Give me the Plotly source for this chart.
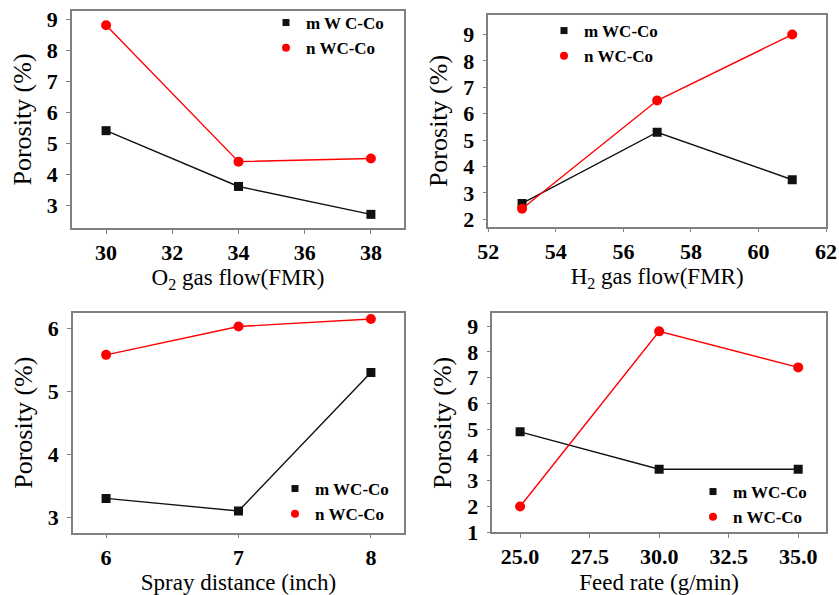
import plotly.graph_objects as go

# ---- data ----
o2_flow = [30, 34, 38]
o2_m = [5.4, 3.6, 2.7]
o2_n = [8.8, 4.4, 4.5]

h2_flow = [53, 57, 61]
h2_m = [2.6, 5.3, 3.5]
h2_n = [2.4, 6.5, 9.0]

spray_dist = [6, 7, 8]
spray_m = [3.3, 3.1, 5.3]
spray_n = [5.58, 6.03, 6.15]

feed_rate = [25, 30, 35]
feed_m = [4.9, 3.45, 3.45]
feed_n = [2.0, 8.8, 7.4]

# tick labels
xticks_o2 = [30, 32, 34, 36, 38]
xticks_h2 = [52, 54, 56, 58, 60, 62]
xticks_spray = [6, 7, 8]
xticks_feed = [25.0, 27.5, 30.0, 32.5, 35.0]
yticks_o2 = [3, 4, 5, 6, 7, 8, 9]
yticks_h2 = [2, 3, 4, 5, 6, 7, 8, 9]
yticks_spray = [3, 4, 5, 6]
yticks_feed = [1, 2, 3, 4, 5, 6, 7, 8, 9]

label_m = "m WC-Co"
label_m_first = "m W C-Co"
label_n = "n WC-Co"

x_titles = ["O<sub>2</sub> gas flow(FMR)", "H<sub>2</sub> gas flow(FMR)",
            "Spray distance (inch)", "Feed rate (g/min)"]
y_title = "Porosity (%)"

W, H = 839, 595
SERIF = "Liberation Serif"
BLACK = "#111111"
RED = "#ff0000"
FRAME = "#7f7f7f"

fig = go.Figure()

panels = [
    (o2_flow, o2_m, o2_n, label_m_first, "x", "y", "legend"),
    (h2_flow, h2_m, h2_n, label_m, "x2", "y2", "legend2"),
    (spray_dist, spray_m, spray_n, label_m, "x3", "y3", "legend3"),
    (feed_rate, feed_m, feed_n, label_m, "x4", "y4", "legend4"),
]

for xs, ms, ns, lm, xa, ya, lg in panels:
    fig.add_trace(go.Scatter(x=xs, y=ms, mode="lines+markers", xaxis=xa, yaxis=ya,
                             line=dict(color=BLACK, width=1.4),
                             marker=dict(symbol="square", size=9, color=BLACK),
                             showlegend=False, hoverinfo="x+y"))
    fig.add_trace(go.Scatter(x=xs, y=ns, mode="lines+markers", xaxis=xa, yaxis=ya,
                             line=dict(color=RED, width=1.4),
                             marker=dict(symbol="circle", size=10, color=RED),
                             showlegend=False, hoverinfo="x+y"))
    # legend entries (marker only, as in the reference legend)
    fig.add_trace(go.Scatter(x=[None], y=[None], mode="markers", xaxis=xa, yaxis=ya,
                             marker=dict(symbol="square", size=7, color=BLACK),
                             name=lm, legend=lg, showlegend=True))
    fig.add_trace(go.Scatter(x=[None], y=[None], mode="markers", xaxis=xa, yaxis=ya,
                             marker=dict(symbol="circle", size=8, color=RED),
                             name=label_n, legend=lg, showlegend=True))


def px_x(p):
    return p / W


def px_y(p):
    return 1 - p / H


boxes = [
    (72, 404, 11, 228),
    (488.3, 826, 15.3, 226.7),
    (73, 404, 312.7, 532.7),
    (492.3, 826, 313.3, 532.3),
]
xranges = [[28.97, 39.0], [52, 62], [5.75, 8.25], [24.0, 36.0]]
yranges = [[2.26, 9.26], [1.72, 9.73], [2.755, 6.25], [1.0, 9.5]]
xtick_lists = [xticks_o2, xticks_h2, xticks_spray, xticks_feed]
ytick_lists = [yticks_o2, yticks_h2, yticks_spray, yticks_feed]
xfmt = ["{:d}", "{:d}", "{:d}", "{:.1f}"]

tickfont = dict(family=SERIF, size=22, color="black")
xtitlefont = dict(family=SERIF, size=23, color="black")
ytitlefont = dict(family=SERIF, size=26, color="black")

layout = dict(
    width=W, height=H,
    margin=dict(l=0, r=0, t=0, b=0),
    paper_bgcolor="white", plot_bgcolor="white",
)

for i, (l, r, t, b) in enumerate(boxes):
    sfx = "" if i == 0 else str(i + 1)
    axis_common = dict(showline=True, linecolor=FRAME, linewidth=1.5, mirror=True,
                       ticks="outside", ticklen=4, tickwidth=1.2, tickcolor=FRAME,
                       showgrid=False, zeroline=False, tickfont=tickfont,
                       automargin=False, tickmode="array")
    xt = xtick_lists[i]
    yt = ytick_lists[i]
    layout["xaxis" + sfx] = dict(
        domain=[px_x(l), px_x(r)], range=xranges[i],
        tickvals=xt, ticktext=["<b>" + xfmt[i].format(v) + "</b>" for v in xt],
        anchor="y" + sfx, ticklabelstandoff=0,
        title=dict(text=x_titles[i], font=xtitlefont, standoff=5),
        **axis_common)
    layout["yaxis" + sfx] = dict(
        domain=[px_y(b), px_y(t)], range=yranges[i],
        tickvals=yt, ticktext=["<b>%d</b>" % v for v in yt],
        anchor="x" + sfx, ticklabelstandoff=4,
        title=dict(text=y_title, font=ytitlefont, standoff=8),
        **axis_common)

legfont = dict(family=SERIF, size=17, color="black", weight="bold")
leg_pos = [(266, 5), (544, 13), (275, 471), (693, 474)]
for i, (lx, ly) in enumerate(leg_pos):
    key = "legend" if i == 0 else "legend" + str(i + 1)
    layout[key] = dict(x=px_x(lx), y=px_y(ly), xanchor="left", yanchor="top",
                       xref="paper", yref="paper",
                       bgcolor="rgba(0,0,0,0)", borderwidth=0, font=legfont,
                       itemwidth=30, tracegroupgap=0, itemclick=False)

fig.update_layout(**layout)
fig.write_html("out.html", config={"displayModeBar": False},
               post_script="document.body.style.margin='0px';document.body.style.overflow='hidden';")
